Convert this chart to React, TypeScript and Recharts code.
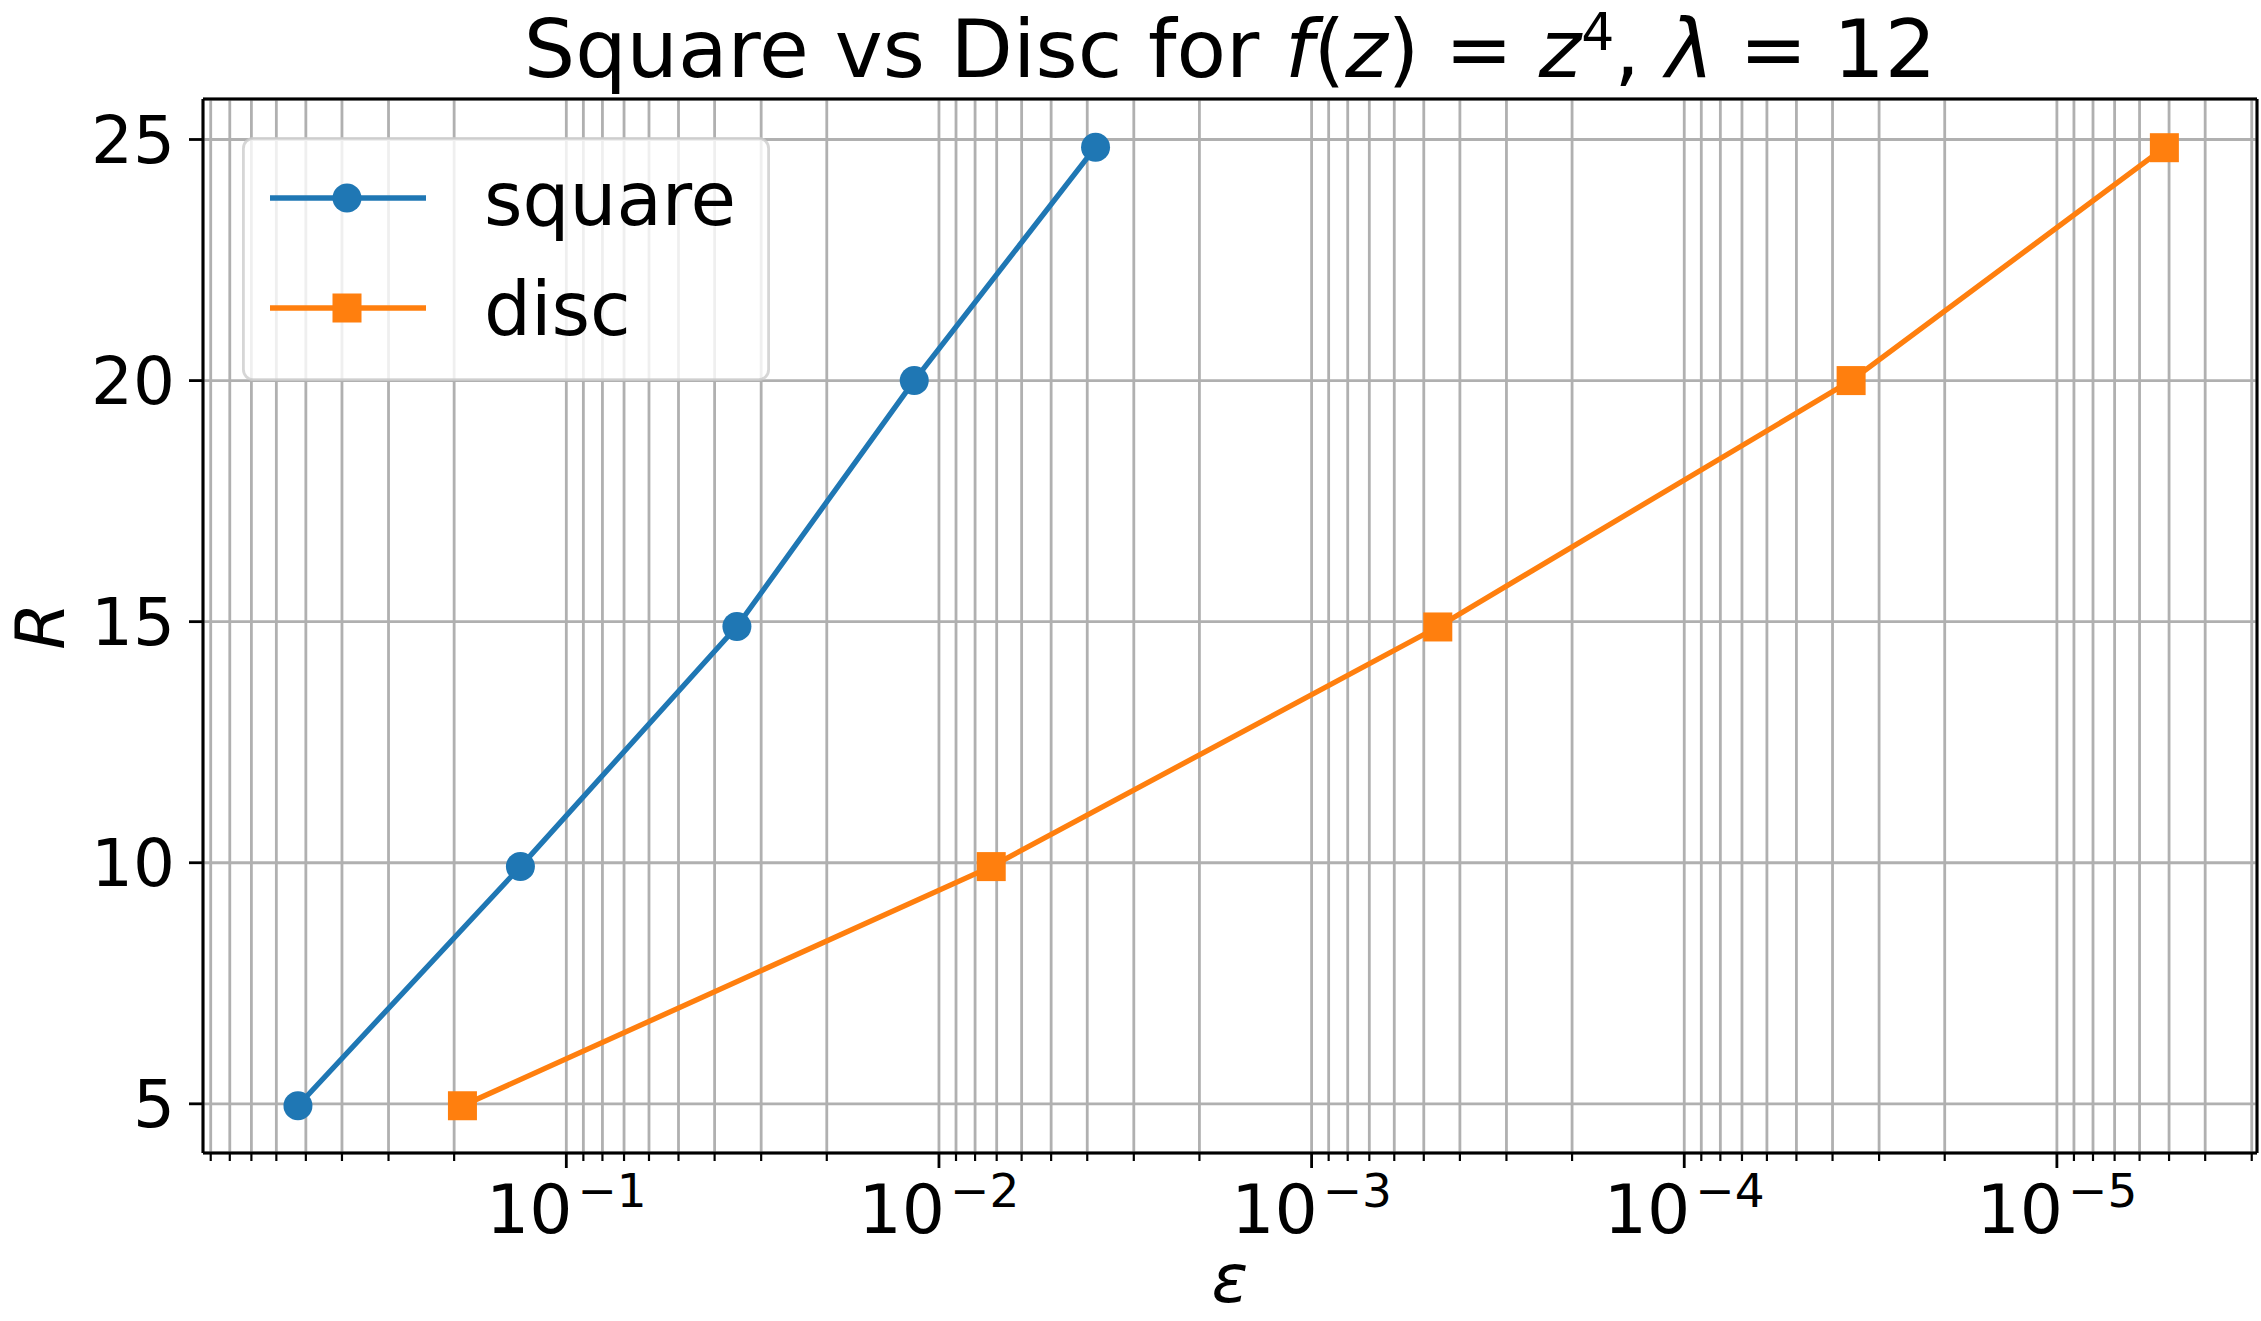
import { ScatterChart, Scatter, XAxis, YAxis, CartesianGrid, Legend, Label, ReferenceLine } from "recharts";

// values
const squareEps = [0.525, 0.1328, 0.03485, 0.01165, 0.0038];
const squareR = [4.96, 9.92, 14.9, 20.0, 24.84];
const discEps = [0.19, 0.00724, 4.585e-4, 3.566e-5, 5.147e-6];
const discR = [4.96, 9.92, 14.89, 20.0, 24.83];

const seriesNames = ["square", "disc"];
const seriesColors = ["#1f77b4", "#ff7f0e"];

const decades = [-6, -5, -4, -3, -2, -1, 0];
const minorSteps = [1, 2, 3, 4, 5, 6, 7, 8, 9];
const yTicks = [5, 10, 15, 20, 25];

const X_DOMAIN: [number, number] = [2.904e-6, 0.944];
const Y_DOMAIN: [number, number] = [3.98, 25.84];

const W = 2261;
const H = 1321;
const LEFT = 203;
const TOP = 99;
const RIGHT = 4;
const BOTTOM = 168;
const LINE_W = 5.3;

const squareData = squareEps.map((e, i) => ({ eps: e, R: squareR[i] }));
const discData = discEps.map((e, i) => ({ eps: e, R: discR[i] }));

const xTicks: number[] = [];
decades.forEach((d) =>
  minorSteps.forEach((k) => {
    const v = k * Math.pow(10, d);
    if (v >= X_DOMAIN[0] && v <= X_DOMAIN[1]) xTicks.push(v);
  })
);

const XTick = (props: any) => {
  const { x, y, payload } = props;
  const lg = Math.log10(payload.value);
  const exp = Math.round(lg);
  const major = Math.abs(lg - exp) < 1e-6;
  return (
    <g>
      <line x1={x} x2={x} y1={y} y2={y + (major ? 15 : 8)} stroke="#000" strokeWidth={major ? 2.8 : 2.2} />
      {major && (
        <text x={x} y={y + 80} textAnchor="middle" fontSize={68} fill="#000">
          10
          <tspan fontSize={47} dy={-26} dx={5}>
            {"\u2212" + Math.abs(exp)}
          </tspan>
        </text>
      )}
    </g>
  );
};

const CircleDot = (props: any) => <circle cx={props.cx} cy={props.cy} r={14.5} fill={seriesColors[0]} />;
const SquareDot = (props: any) => (
  <rect x={props.cx - 14.5} y={props.cy - 14.5} width={29} height={29} fill={seriesColors[1]} />
);

const makeLine = (color: string) => (p: any) => (
  <polyline
    points={(p.points || []).map((pt: any) => `${pt.x},${pt.y}`).join(" ")}
    fill="none"
    stroke={color}
    strokeWidth={LINE_W}
    strokeLinejoin="round"
  />
);

// title and x label drawn together from the x axis label
const OuterLabels = () => {
  const cx = LEFT + (W - LEFT - RIGHT) / 2;
  return (
    <g>
      <text x={cx} y={77} textAnchor="middle" fontSize={81} fill="#000">
        {"Square vs Disc for "}
        <tspan fontStyle="italic">f</tspan>
        {"("}
        <tspan fontStyle="italic">z</tspan>
        {") = "}
        <tspan fontStyle="italic">z</tspan>
        <tspan fontSize={52} dy={-27}>4</tspan>
        <tspan dy={27}>{", "}</tspan>
        <tspan fontStyle="italic">λ</tspan>
        {" = 12"}
      </text>
      <text x={cx} y={1302} textAnchor="middle" fontSize={68} fontStyle="italic" fill="#000">
        ε
      </text>
    </g>
  );
};

const RLabel = () => {
  const cy = TOP + (H - TOP - BOTTOM) / 2;
  return (
    <text x={64} y={cy} transform={`rotate(-90 64 ${cy})`} textAnchor="middle" fontSize={68} fontStyle="italic" fill="#000">
      R
    </text>
  );
};

const LegendBox = () => (
  <svg width={528} height={244} style={{ display: "block" }}>
    <rect x={1.4} y={1.4} width={525.2} height={241.2} rx={10} fill="rgba(255,255,255,0.8)" stroke="rgba(204,204,204,0.8)" strokeWidth={2.8} />
    {seriesNames.map((name, i) => {
      const ly = i === 0 ? 61 : 171;
      return (
        <g key={name}>
          <line x1={28} x2={184} y1={ly} y2={ly} stroke={seriesColors[i]} strokeWidth={LINE_W} />
          {i === 0 ? (
            <circle cx={105} cy={ly} r={14.5} fill={seriesColors[i]} />
          ) : (
            <rect x={90.5} y={ly - 14.5} width={29} height={29} fill={seriesColors[i]} />
          )}
          <text x={242} y={ly + 27} fontSize={74} fill="#000">
            {name}
          </text>
        </g>
      );
    })}
  </svg>
);

const App = () => (
  <div style={{ width: W, height: H, fontFamily: "'DejaVu Sans', sans-serif", background: "#fff" }}>
    <style>{"body{margin:0}"}</style>
    <ScatterChart width={W} height={H} margin={{ top: TOP, right: RIGHT, bottom: 0, left: 0 }}>
      <CartesianGrid stroke="#b0b0b0" strokeWidth={2.8} />
      <XAxis
        dataKey="eps"
        type="number"
        scale="log"
        domain={X_DOMAIN}
        allowDataOverflow
        reversed
        ticks={xTicks}
        interval={0}
        height={BOTTOM}
        tickSize={0}
        tickMargin={0}
        tickLine={false}
        tick={<XTick />}
        axisLine={{ stroke: "#000", strokeWidth: 3 }}
        label={<Label content={OuterLabels} />}
      />
      <YAxis
        dataKey="R"
        type="number"
        domain={Y_DOMAIN}
        allowDataOverflow
        ticks={yTicks}
        interval={0}
        width={LEFT}
        tickSize={14}
        tickMargin={14}
        tick={{ fontSize: 66, fill: "#000" }}
        tickLine={{ stroke: "#000", strokeWidth: 2.8 }}
        axisLine={{ stroke: "#000", strokeWidth: 3 }}
        label={<Label content={RLabel} />}
      />
      <ReferenceLine y={Y_DOMAIN[1]} stroke="#000" strokeWidth={3} ifOverflow="visible" />
      <ReferenceLine x={X_DOMAIN[0]} stroke="#000" strokeWidth={3} ifOverflow="visible" />
      <Legend
        layout="vertical"
        align="center"
        verticalAlign="middle"
        width={528}
        height={244}
        wrapperStyle={{ left: 242, top: 137, width: 528, height: 244, margin: 0, padding: 0 }}
        content={() => <LegendBox />}
      />
      <Scatter
        name={seriesNames[0]}
        data={squareData}
        fill={seriesColors[0]}
        line={makeLine(seriesColors[0])}
        lineType="joint"
        shape={<CircleDot />}
        isAnimationActive={false}
      />
      <Scatter
        name={seriesNames[1]}
        data={discData}
        fill={seriesColors[1]}
        line={makeLine(seriesColors[1])}
        lineType="joint"
        shape={<SquareDot />}
        isAnimationActive={false}
      />
    </ScatterChart>
  </div>
);

export default App;
